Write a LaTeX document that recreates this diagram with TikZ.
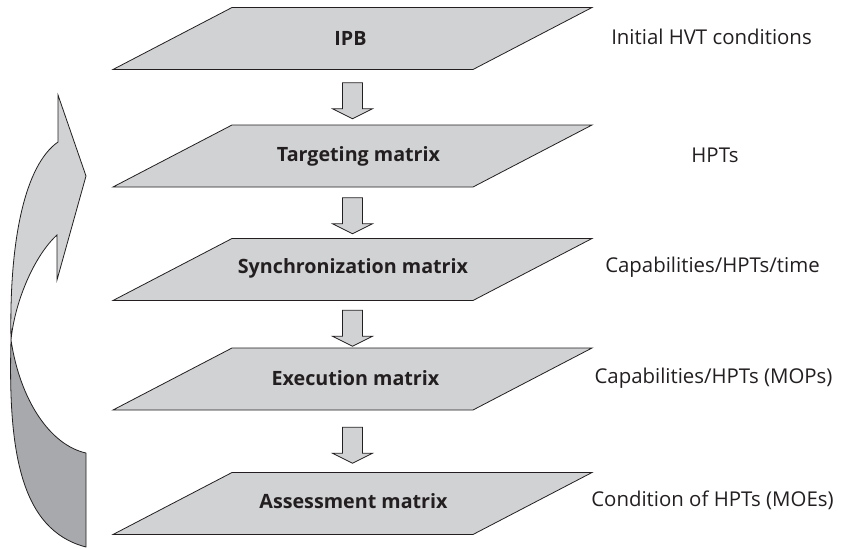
\documentclass[tikz,border=0pt]{standalone}
\usepackage{fontspec}
\setmainfont{Open Sans}
\usetikzlibrary{calc}
\definecolor{inkc}{HTML}{231F20}
\definecolor{lightg}{HTML}{D1D2D4}
\definecolor{darkg}{HTML}{A7A9AC}
\tikzset{
  planestyle/.style={draw=inkc, fill=lightg, line width=0.8pt, line join=miter},
  planetext/.style={font=\fontsize{19.7}{22}\selectfont\bfseries, text=inkc},
  sidetext/.style={font=\fontsize{20.4}{23}\selectfont, text=inkc},
  blockarrow/.style={draw=inkc, fill=lightg, line width=0.8pt},
  pics/plane/.style={code={\draw[planestyle] (-239.5,31) -- (120.5,31) -- (239.5,-31) -- (-120.5,-31) -- cycle;}},
  pics/downarrow/.style={code={\draw[blockarrow] (-10,-16) -- (10,-16) -- (10,10) -- (20,10) -- (0,20) -- (-20,10) -- (-10,10) -- cycle;}}
}
\begin{document}
\begin{tikzpicture}[x=1pt,y=-1pt]
\useasboundingbox (0,0) rectangle (844,549);
% curved return arrow
\draw[draw=inkc, fill=darkg, line width=0.8pt, line join=round]
  (11,340) .. controls (8,450) and (20,530) .. (86,547) -- (86,453)
  .. controls (50,445) and (20,400) .. (11,340) -- cycle;
\draw[draw=inkc, fill=lightg, line width=0.8pt, line join=miter]
  (58,142) -- (58,95) -- (86,176) -- (57,280) -- (57,235)
  .. controls (35,255) and (15,300) .. (11,340)
  .. controls (9,240) and (25,165) .. (58,142) -- cycle;
% plane centres
\coordinate (c1) at (352.5,38.5);
\coordinate (c2) at (352.5,156);
\coordinate (c3) at (352.5,269.5);
\coordinate (c4) at (352.5,379);
\coordinate (c5) at (352.5,503.5);
\foreach \c in {c1,c2,c3,c4,c5}{
  \pic at (\c) {plane};
}
\node[planetext] (p1) at ($(c1)+(-2,0)$) {IPB};
\node[planetext] (p2) at ($(c2)+(6,0)$) {Targeting matrix};
\node[planetext] (p3) at ($(c3)+(0.5,-1)$) {Synchronization matrix};
\node[planetext] (p4) at ($(c4)+(3,-1)$) {Execution matrix};
\node[planetext] (p5) at ($(c5)+(1,-2)$) {Assessment matrix};
% arrows between planes
\pic at ($(c1)!0.5!(c2)+(0,1.5)$) {downarrow};
\pic at ($(c2)!0.5!(c3)+(0,1)$) {downarrow};
\pic at ($(c3)!0.5!(c4)+(0,2)$) {downarrow};
\pic at ($(c4)!0.5!(c5)+(0,2)$) {downarrow};
% side labels
\node[sidetext] (l1) at (711.5,37) {Initial HVT conditions};
\node[sidetext] (l2) at (715,155) {HPTs};
\node[sidetext] (l3) at (712.5,267) {Capabilities/HPTs/time};
\node[sidetext] (l4) at (713.5,378) {Capabilities/HPTs (MOPs)};
\node[sidetext] (l5) at (712.5,500) {Condition of HPTs (MOEs)};
\end{tikzpicture}
\end{document}
